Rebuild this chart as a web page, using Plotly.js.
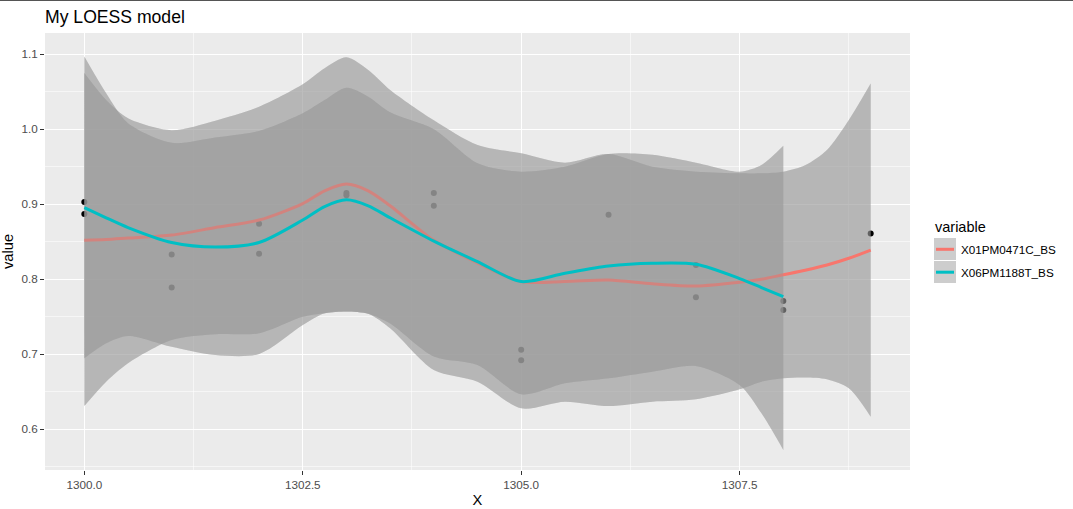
<!DOCTYPE html>
<html>
<head>
<meta charset="utf-8">
<script src="https://cdn.plot.ly/plotly-3.0.1.min.js"></script>
<style>html,body{margin:0;padding:0;background:#fff;}#chart{width:1073px;height:509px;}</style>
</head>
<body>
<div id="chart"></div>
<script>
// ---- data ----
const pointX = [1300,1300,1301,1301,1302,1302,1303,1303,1304,1304,1305,1305,1306,1307,1307,1308,1308,1309];
const pointY = [0.903,0.887,0.833,0.789,0.874,0.834,0.915,0.912,0.915,0.898,0.706,0.692,0.886,0.819,0.776,0.771,0.759,0.861];

const redName = "X01PM0471C_BS";
const redX = [1300,1300.25,1300.5,1301,1301.5,1302,1302.5,1302.75,1303,1303.25,1303.5,1304,1304.5,1305,1305.5,1306,1306.5,1307,1307.5,1307.75,1308,1308.25,1308.5,1308.75,1309];
const redFit = [0.852,0.853,0.855,0.859,0.869,0.879,0.901,0.918,0.927,0.918,0.898,0.852,0.822,0.797,0.797,0.799,0.794,0.791,0.796,0.800,0.806,0.812,0.819,0.828,0.839];
const redUpper = [1.075,1.039,1.0147,0.9987,1.0115,1.030,1.060,1.0813,1.096,1.079,1.0524,1.012,0.979,0.968,0.9555,0.967,0.950,0.9435,0.9413,0.9413,0.9435,0.952,0.9724,1.0124,1.061];
const redLower = [0.631,0.6635,0.688,0.719,0.7267,0.728,0.750,0.7547,0.757,0.754,0.7347,0.679,0.6635,0.628,0.6368,0.631,0.6368,0.640,0.6533,0.6635,0.668,0.669,0.6667,0.6547,0.6168];

const cyanName = "X06PM1188T_BS";
const cyanX = [1300,1300.25,1300.5,1301,1301.5,1302,1302.5,1302.75,1303,1303.25,1303.5,1304,1304.5,1305,1305.5,1306,1306.5,1307,1307.5,1307.75,1308];
const cyanFit = [0.8955,0.882,0.869,0.849,0.843,0.849,0.879,0.897,0.906,0.898,0.882,0.851,0.8235,0.797,0.808,0.8177,0.8213,0.820,0.801,0.789,0.777];
const cyanUpper = [1.097,1.048,1.008,0.982,0.989,0.9977,1.0213,1.039,1.0555,1.0435,1.0226,1.000,0.9547,0.9435,0.950,0.967,0.966,0.9555,0.9435,0.9524,0.978];
const cyanLower = [0.6947,0.7147,0.7244,0.710,0.699,0.7004,0.739,0.7547,0.757,0.754,0.741,0.697,0.6857,0.6467,0.6613,0.668,0.6768,0.6844,0.659,0.6213,0.5724];

const xTicks = [1300, 1302.5, 1305, 1307.5];
const yTicks = [0.6, 0.7, 0.8, 0.9, 1.0, 1.1];

// ---- styling ----
const RED = "#F8766D", CYAN = "#00BFC4";
const RIBBON = "rgba(153,153,153,0.4)";
const FONT = "Liberation Sans, Arial, sans-serif";

function ribbon(x, lo, hi) {
  return [
    {x: x, y: lo, type: "scatter", mode: "lines", line: {width: 0, shape: "spline", smoothing: 0.8}, hoverinfo: "skip", showlegend: false},
    {x: x, y: hi, type: "scatter", mode: "lines", line: {width: 0, shape: "spline", smoothing: 0.8}, fill: "tonexty", fillcolor: RIBBON, hoverinfo: "skip", showlegend: false}
  ];
}
function fitLine(x, y, c, name) {
  return {x: x, y: y, name: name, type: "scatter", mode: "lines", line: {color: c, width: 3, shape: "spline", smoothing: 0.8}, showlegend: false};
}

const traces = [
  {x: pointX, y: pointY, type: "scatter", mode: "markers", marker: {color: "#000", size: 6}, showlegend: false}
].concat(
  ribbon(redX, redLower, redUpper),
  ribbon(cyanX, cyanLower, cyanUpper),
  ribbon(redX, redLower, redUpper),
  [fitLine(redX, redFit, RED, redName)],
  ribbon(cyanX, cyanLower, cyanUpper),
  [fitLine(cyanX, cyanFit, CYAN, cyanName)]
);

// pixel helpers for the hand-built legend (plot area 45..910 x 33..470)
const L = 45, R = 163, T = 33, B = 39, W = 1073, H = 509;
const pw = W - L - R, ph = H - T - B;
const px = X => (X - L) / pw;
const py = Y => (H - B - Y) / ph;

const shapes = [
  {type: "line", xref: "paper", yref: "paper", x0: px(0), x1: px(W), y0: py(0.5), y1: py(0.5), line: {color: "#555", width: 1}},
  {type: "rect", xref: "paper", yref: "paper", x0: px(934), x1: px(956), y0: py(238), y1: py(260), fillcolor: "#CDCDCD", line: {width: 0}},
  {type: "rect", xref: "paper", yref: "paper", x0: px(934), x1: px(956), y0: py(261), y1: py(283), fillcolor: "#CDCDCD", line: {width: 0}},
  {type: "line", xref: "paper", yref: "paper", x0: px(936), x1: px(954), y0: py(249.3), y1: py(249.3), line: {color: RED, width: 3}},
  {type: "line", xref: "paper", yref: "paper", x0: px(936), x1: px(954), y0: py(272.2), y1: py(272.2), line: {color: CYAN, width: 3}}
];
const annotations = [
  {xref: "paper", yref: "paper", x: px(933), y: py(227), xanchor: "left", yanchor: "middle", text: "variable", showarrow: false, font: {family: FONT, size: 14.5, color: "#000"}},
  {xref: "paper", yref: "paper", x: px(959), y: py(249.3), xanchor: "left", yanchor: "middle", text: redName, showarrow: false, font: {family: FONT, size: 11.7, color: "#000"}},
  {xref: "paper", yref: "paper", x: px(959), y: py(272.2), xanchor: "left", yanchor: "middle", text: cyanName, showarrow: false, font: {family: FONT, size: 11.7, color: "#000"}}
];

const layout = {
  width: W, height: H,
  margin: {l: L, r: R, t: T, b: B, pad: 0},
  paper_bgcolor: "#FFFFFF",
  plot_bgcolor: "#EBEBEB",
  showlegend: false,
  font: {family: FONT},
  title: {text: "My LOESS model", font: {family: FONT, size: 17.6, color: "#000"}, xref: "paper", x: 0, xanchor: "left", yref: "container", y: 1 - 17 / H, yanchor: "middle"},
  xaxis: {
    range: [1299.55, 1309.45], tickmode: "array", tickvals: xTicks, tickformat: ".1f",
    showgrid: true, gridcolor: "#FFFFFF", gridwidth: 1.1, zeroline: false, showline: false,
    ticks: "outside", ticklen: 4, tickwidth: 1.1, tickcolor: "#333333",
    tickfont: {family: FONT, size: 11.7, color: "#4D4D4D"},
    minor: {tickmode: "linear", tick0: 1298.75, dtick: 2.5, showgrid: true, gridcolor: "#FFFFFF", gridwidth: 0.55},
    title: {text: "X", font: {family: FONT, size: 14.7, color: "#000"}, standoff: 4},
    automargin: false
  },
  yaxis: {
    range: [0.5457, 1.1284], tickmode: "array", tickvals: yTicks, tickformat: ".1f",
    showgrid: true, gridcolor: "#FFFFFF", gridwidth: 1.1, zeroline: false, showline: false,
    ticks: "outside", ticklen: 4, tickwidth: 1.1, tickcolor: "#333333",
    tickfont: {family: FONT, size: 11.7, color: "#4D4D4D"},
    minor: {tickmode: "linear", tick0: 0.55, dtick: 0.1, showgrid: true, gridcolor: "#FFFFFF", gridwidth: 0.55},
    title: {text: "value", font: {family: FONT, size: 14.7, color: "#000"}, standoff: 4},
    automargin: false
  },
  shapes: shapes,
  annotations: annotations
};

Plotly.newPlot("chart", traces, layout, {staticPlot: true, displayModeBar: false});
</script>
</body>
</html>
